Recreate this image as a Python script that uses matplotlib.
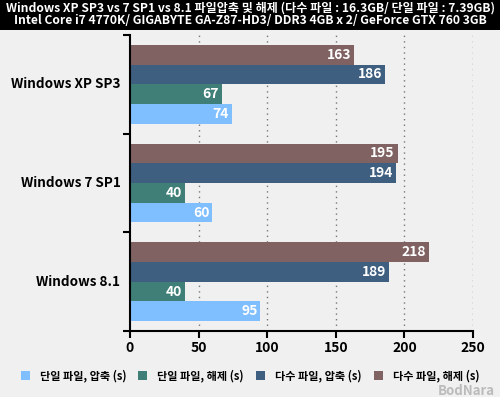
import matplotlib
matplotlib.use("Agg")
import matplotlib.pyplot as plt
import numpy as np
from matplotlib.patches import Rectangle

plt.rcParams['font.family'] = ['Noto Sans CJK KR', 'DejaVu Sans']

title_lines = ["Windows XP SP3 vs 7 SP1 vs 8.1 파일압축 및 해제 (다수 파일 : 16.3GB/ 단일 파일 : 7.39GB)",
               "Intel Core i7 4770K/ GIGABYTE GA-Z87-HD3/ DDR3 4GB x 2/ GeForce GTX 760 3GB"]
categories = ["Windows XP SP3", "Windows 7 SP1", "Windows 8.1"]
series_names = ["단일 파일, 압축 (s)", "단일 파일, 해제 (s)", "다수 파일, 압축 (s)", "다수 파일, 해제 (s)"]
single_compress = [74, 60, 95]
single_extract = [67, 40, 40]
multi_compress = [186, 194, 189]
multi_extract = [163, 195, 218]
xticks = [0, 50, 100, 150, 200, 250]

colors = ["#80bfff", "#3f7f78", "#3f5f80", "#806262"]
series = [single_compress, single_extract, multi_compress, multi_extract]
offsets = [0.3, 0.1, -0.1, -0.3]

bg = "#f0f0f0"
fig = plt.figure(figsize=(5, 3.97), dpi=100, facecolor=bg)
# title band
fig.patches.append(Rectangle((0, 1 - 30/397), 1, 30/397, transform=fig.transFigure,
                             facecolor="black", edgecolor="none", zorder=0))
fig.text(0.5, 1 - 8/397, title_lines[0], color="white", ha="center", va="center",
         fontsize=8.7, fontweight="bold")
fig.text(0.5, 1 - 21/397, title_lines[1], color="white", ha="center", va="center",
         fontsize=8.7, fontweight="bold")

ax = fig.add_axes([130/500, 1 - 331/397, 343/500, 296/397])
ax.set_facecolor(bg)
y = np.arange(len(categories))
for vals, col, off, name in zip(series, colors, offsets, series_names):
    bars = ax.barh(y + off, vals, height=0.2, color=col, label=name, zorder=2)
    for b, v in zip(bars, vals):
        ax.text(v - 2, b.get_y() + b.get_height() / 2, str(v), ha="right", va="center",
                color="white", fontsize=10, fontweight="bold", zorder=3)

ax.set_xlim(0, 250)
ax.set_ylim(len(categories) - 0.5, -0.5)
ax.set_xticks(xticks)
ax.set_xticklabels([str(t) for t in xticks], fontsize=10, fontweight="bold")
ax.set_yticks([])
ax.set_yticks([-0.5, 0.5, 1.5, 2.5], minor=True)
ax.tick_params(axis='y', which='minor', length=5, width=1.5, direction='out')
ax.tick_params(axis='x', length=5, width=1.5, direction='out', pad=2)
for i, c in enumerate(categories):
    ax.text(-7, i, c, ha="right", va="center", fontsize=9.7, fontweight="bold",
            transform=ax.transData, clip_on=False)
for t in xticks[1:]:
    ax.axvline(t, color="#777777", linestyle=(0, (1, 3)), linewidth=1, zorder=1)
for s in ["top", "right"]:
    ax.spines[s].set_visible(False)
ax.spines["left"].set_linewidth(1.5)
ax.spines["bottom"].set_linewidth(1.5)

handles, labels = ax.get_legend_handles_labels()
leg = fig.legend(handles, labels, loc="center", bbox_to_anchor=(0.5, 1 - 376/397), ncol=4,
                 frameon=False, handlelength=0.8, handleheight=0.8,
                 columnspacing=1.1, handletextpad=0.9, prop={'weight': 'bold', 'size': 8})

fig.text(0.99, 1 - 391/397, "BodNara", ha="right", va="center", fontsize=9.5,
         fontweight="bold", color="#bbbbbb")

fig.savefig("out.png", dpi=100, facecolor=bg)
